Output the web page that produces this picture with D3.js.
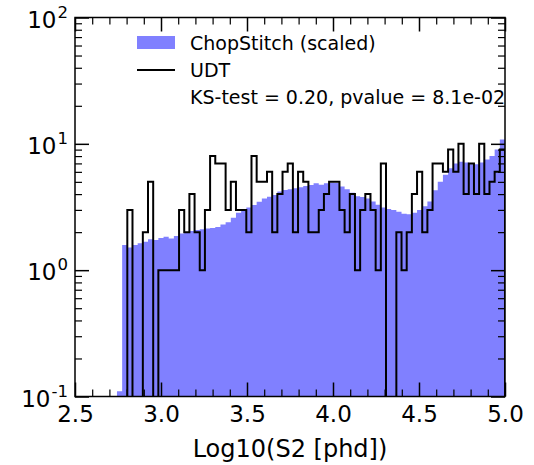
<!DOCTYPE html>
<html><head><meta charset="utf-8">
<script src="https://cdn.jsdelivr.net/npm/d3@7"></script>
<style>body{margin:0;background:#fff} text{font-family:"DejaVu Sans",sans-serif;fill:#000}</style>
</head><body><svg id="c" width="534" height="465"></svg>
<script>
// ---- data ----
const binStart = 2.744;
const binWidth = 0.03008;
const chopStitch = [0.11,1.58,1.51,1.58,1.63,1.68,1.76,1.73,1.80,1.84,
  1.78,1.86,1.95,2.00,2.04,2.08,2.11,2.14,2.16,2.20,
  2.30,2.40,2.60,2.85,3.00,3.14,3.28,3.48,3.70,3.82,
  3.94,4.20,4.32,4.37,4.45,4.53,4.64,4.72,4.87,4.75,
  4.87,4.93,4.90,4.60,4.37,4.10,3.85,3.80,3.70,3.50,
  3.30,3.14,3.05,3.00,2.90,2.80,2.77,2.85,3.00,3.20,
  3.50,4.30,5.00,5.70,6.40,7.00,7.20,7.10,6.90,6.90,
  7.10,7.50,8.00,9.00,10.8];
const udt = [0,0,3,0,0,2,5,0,1,1,
  1,1,3,2,4,2,1,3,8,7,
  7,3,5,3,3,2,8,5,5,6,
  2,4,6,7,2,6,5,2,2,3,
  4,5,5,3,2,4,1,3,4,3,
  1,7,0,0,2,1,2,4,6,2,
  3,7,7,6,9,6,10,4,7,4,
  10,4,5,6,9];
const xTickValues = [2.5,3.0,3.5,4.0,4.5,5.0];
const xTickLabels = ["2.5","3.0","3.5","4.0","4.5","5.0"];
const yTickValues = [0.1,1,10,100];
const yTickExponents = ["-1","0","1","2"];
const legendLabels = ["ChopStitch (scaled)","UDT","KS-test = 0.20, pvalue = 8.1e-02"];
const xLabel = "Log10(S2 [phd])";

// ---- layout ----
const L = 75, R = 505, T = 17.5, B = 396.5;
const svg = d3.select("#c");
const x = d3.scaleLinear().domain([2.5, 5.0]).range([L, R]);
const y = d3.scaleLog().domain([0.1, 100]).range([B, T]);
const edges = d3.range(chopStitch.length + 1).map(i => binStart + i * binWidth);

svg.append("defs").append("clipPath").attr("id","clip")
  .append("rect").attr("x",L).attr("y",T).attr("width",R-L).attr("height",B-T);
const g = svg.append("g").attr("clip-path","url(#clip)");

// filled histogram
const pts = chopStitch.map((v,i)=>[edges[i], v]);
pts.push([edges[edges.length-1], chopStitch[chopStitch.length-1]]);
g.append("path")
  .attr("d", d3.area().x(d=>x(d[0])).y0(B+5).y1(d=>y(Math.max(d[1],1e-3))).curve(d3.curveStepAfter)(pts))
  .attr("fill","#8080ff").attr("stroke","none");

// step histogram
const lp = [[edges[0], 1e-3]];
udt.forEach((v,i)=>lp.push([edges[i], v]));
lp.push([edges[edges.length-1], udt[udt.length-1]]);
lp.push([edges[edges.length-1], 1e-3]);
g.append("path")
  .attr("d", d3.line().x(d=>x(d[0])).y(d=>y(Math.max(d[1],1e-3))).curve(d3.curveStepAfter)(lp))
  .attr("fill","none").attr("stroke","#000").attr("stroke-width",2).attr("stroke-linejoin","miter");

// ---- axes ----
const xMinor = d3.range(26).map(i => 2.5 + i*0.1).filter(v => Math.abs(v*2 - Math.round(v*2)) > 1e-6);
const yMinor = [];
[0.1,1,10].forEach(d => { for (let m=2;m<=9;m++) yMinor.push(d*m); });

function style(sel, w){ sel.select(".domain").remove(); sel.selectAll(".tick line").attr("stroke","#000").attr("stroke-width",w); }

const fs = 23;
const ax = svg.append("g").attr("transform",`translate(0,${B})`)
  .call(d3.axisBottom(x).tickValues(xTickValues).tickSize(-14).tickPadding(9).tickFormat((d,i)=>xTickLabels[i]));
style(ax,1.5);
ax.selectAll("text").attr("font-size",fs).attr("font-family","DejaVu Sans").attr("fill","#000");
style(svg.append("g").attr("transform",`translate(0,${B})`).call(d3.axisBottom(x).tickValues(xMinor).tickSize(-7).tickFormat("")),1.2);
style(svg.append("g").attr("transform",`translate(0,${T})`).call(d3.axisTop(x).tickValues(xTickValues).tickSize(-14).tickFormat("")),1.5);
style(svg.append("g").attr("transform",`translate(0,${T})`).call(d3.axisTop(x).tickValues(xMinor).tickSize(-7).tickFormat("")),1.2);

style(svg.append("g").attr("transform",`translate(${L},0)`).call(d3.axisLeft(y).tickValues(yTickValues).tickSize(-14).tickFormat("")),1.5);
style(svg.append("g").attr("transform",`translate(${L},0)`).call(d3.axisLeft(y).tickValues(yMinor).tickSize(-7).tickFormat("")),1.2);
style(svg.append("g").attr("transform",`translate(${R},0)`).call(d3.axisRight(y).tickValues(yTickValues).tickSize(-14).tickFormat("")),1.5);
style(svg.append("g").attr("transform",`translate(${R},0)`).call(d3.axisRight(y).tickValues(yMinor).tickSize(-7).tickFormat("")),1.2);

// y tick labels 10^n
yTickValues.forEach((v,i)=>{
  const t = svg.append("text").attr("x", L-7).attr("y", y(v)+10).attr("text-anchor","end").attr("font-size",fs);
  t.append("tspan").text("10");
  t.append("tspan").attr("font-size",fs*0.72).attr("dx",1).attr("dy",-10).text(yTickExponents[i]);
});

// frame
svg.append("rect").attr("x",L).attr("y",T).attr("width",R-L).attr("height",B-T)
  .attr("fill","none").attr("stroke","#000").attr("stroke-width",1.5);

// x label
svg.append("text").attr("x",(L+R)/2).attr("y",457).attr("text-anchor","middle").attr("font-size",24).text(xLabel);

// legend
const lfs = 19, lx = 137, tx = 190;
svg.append("rect").attr("x",lx).attr("y",36).attr("width",38).attr("height",13).attr("fill","#8080ff");
svg.append("line").attr("x1",lx).attr("x2",lx+38).attr("y1",70).attr("y2",70).attr("stroke","#000").attr("stroke-width",2);
[49.5,76.5,103.5].forEach((yy,i)=>{
  svg.append("text").attr("x",tx).attr("y",yy).attr("font-size",lfs).text(legendLabels[i]);
});
</script></body></html>
